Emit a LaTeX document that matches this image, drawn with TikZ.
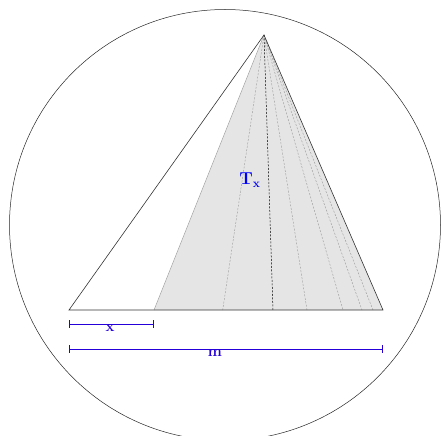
\documentclass[tikz,border=0pt]{standalone}
\begin{document}
\begin{tikzpicture}[x=1pt,y=-1pt,
  edge/.style={draw=black!80,line width=0.6pt},
  ray/.style={draw=gray!80,dashed,line width=0.4pt,dash pattern=on 2pt off 1.5pt},
  keyray/.style={draw=black,dashed,line width=0.5pt,dash pattern=on 2pt off 1.5pt},
  meas/.style={draw=blue!85!red,line width=0.8pt,|-|},
  lbl/.style={text=blue!85!red,font=\fontsize{15}{16}\selectfont\bfseries,inner sep=0pt,anchor=north}]
\useasboundingbox (0,0) rectangle (442,436);
\node[circle,draw=black!85,line width=0.5pt,minimum size=431pt,inner sep=0pt] (c) at (225,225) {};
\coordinate (A) at (264,35);
\coordinate (L) at (69,310);
\coordinate (S) at (154,310);
\coordinate (R) at (383,310);
\fill[gray!20] (A) -- (S) -- (R) -- cycle;
\foreach \bx/\nm in {222.7/d1,307/d3,343/d4,362/d5,373/d6} {
  \coordinate (\nm) at (\bx,310);
  \draw[ray] (A) -- (\nm);
}
\coordinate (d2) at (273,310);
\draw[keyray] (A) -- (d2);
\draw[gray!70,line width=0.5pt] (A) -- (S);
\draw[edge] (L) -- (A) -- (R) -- cycle;
\node[text=blue,inner sep=0pt,font=\fontsize{18}{20}\selectfont] (tx) at (250,180) {$\mathbf{T}_{\mathbf{x}}$};
\coordinate (x0) at (69,324);
\coordinate (x1) at (154,324);
\draw[meas] (x0) -- (x1);
\node[lbl] (xl) at (110,325) {x};
\coordinate (m0) at (69,349);
\coordinate (m1) at (383,349);
\draw[meas] (m0) -- (m1);
\node[lbl] (ml) at (215,350) {m};
\end{tikzpicture}
\end{document}
